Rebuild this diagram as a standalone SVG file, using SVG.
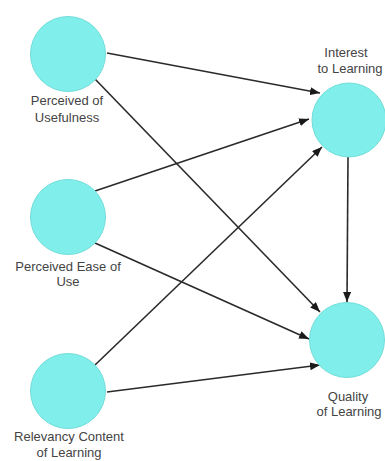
<svg xmlns="http://www.w3.org/2000/svg" width="385" height="461" viewBox="0 0 385 461">
<defs>
<style>
.node{fill:#80EEEA;stroke:#72DDD9;stroke-width:1}
.lbl{font-family:"Liberation Sans",Arial,sans-serif;font-size:13px;fill:#444;text-anchor:middle}
.edge{stroke:#2a2a2a;stroke-width:1.6;fill:none;marker-end:url(#arr)}
</style>
<marker id="arr" viewBox="0 0 10 8" refX="10" refY="4" markerWidth="10" markerHeight="8" markerUnits="userSpaceOnUse" orient="auto">
<path d="M0,0 L10,4 L0,8 z" fill="#1a1a1a"/>
</marker>
</defs>
<rect width="385" height="461" fill="#fff"/>
<g id="connectors">
<line class="edge" x1="107" y1="53" x2="320" y2="93"/>
<line class="edge" x1="95" y1="79" x2="320" y2="312"/>
<line class="edge" x1="95" y1="191" x2="309" y2="119"/>
<line class="edge" x1="95" y1="243" x2="309" y2="339"/>
<line class="edge" x1="95" y1="365" x2="322" y2="147"/>
<line class="edge" x1="107" y1="392" x2="320" y2="365"/>
<line class="edge" x1="348" y1="157" x2="347" y2="302"/>
</g>
<g id="pu">
<circle class="node" cx="68" cy="54" r="37.5"/>
<text class="lbl" x="67" y="105">Perceived of</text>
<text class="lbl" x="67" y="122">Usefulness</text>
</g>
<g id="peu">
<circle class="node" cx="68" cy="217" r="37.5"/>
<text class="lbl" x="68" y="271">Perceived Ease of</text>
<text class="lbl" x="68" y="286">Use</text>
</g>
<g id="rcl">
<circle class="node" cx="68" cy="391" r="37.5"/>
<text class="lbl" x="69" y="441">Relevancy Content</text>
<text class="lbl" x="69" y="457">of Learning</text>
</g>
<g id="itl">
<circle class="node" cx="349" cy="120" r="37"/>
<text class="lbl" x="346" y="57">Interest</text>
<text class="lbl" x="350" y="73">to Learning</text>
</g>
<g id="qol">
<circle class="node" cx="347" cy="340" r="37.5"/>
<text class="lbl" x="348" y="401">Quality</text>
<text class="lbl" x="349" y="416">of Learning</text>
</g>
</svg>
